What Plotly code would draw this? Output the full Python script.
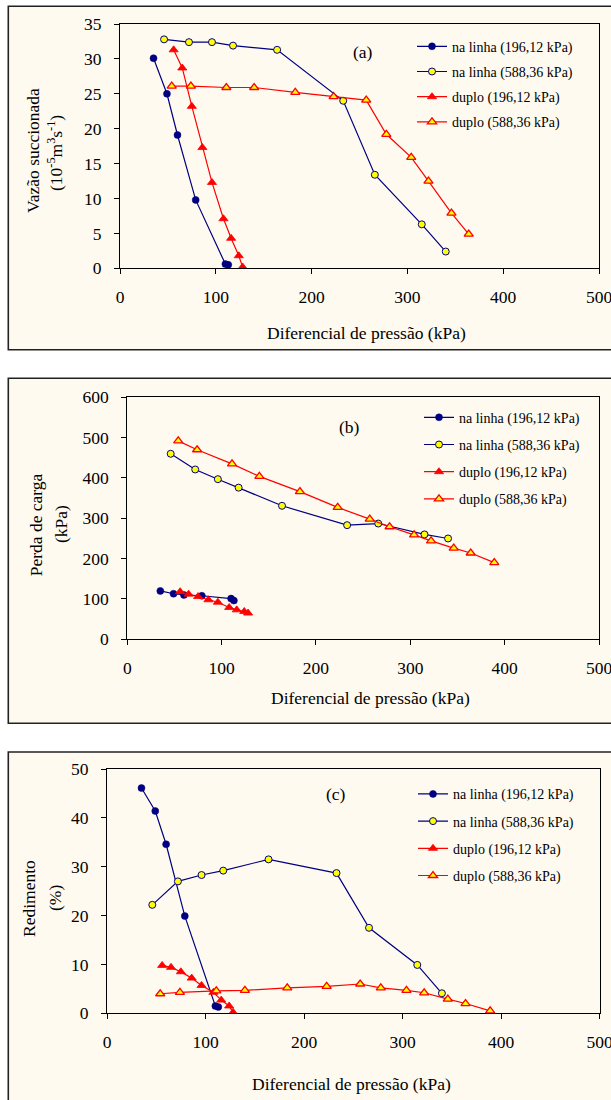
import plotly.graph_objects as go

# ---------------- data ----------------
series_names = ["na linha (196,12 kPa)", "na linha (588,36 kPa)",
                "duplo (196,12 kPa)", "duplo (588,36 kPa)"]

# pressure differential (kPa) for each series
x_linha_196 = [35, 49, 60, 79, 110, 113]
x_linha_588 = [46, 72, 96, 118, 164, 233, 266, 315, 340]
x_duplo_196 = [56, 65, 75, 86, 96, 108, 116, 124, 128]
x_duplo_588 = [54, 74, 111, 140, 183, 223, 257, 278, 304, 322, 346, 364, 389]

# (a) Vazão succionada (10^-5 m3/s)
a_linha_196 = [30.1, 25.0, 19.1, 9.8, 0.6, 0.5]
a_linha_588 = [32.8, 32.4, 32.4, 31.9, 31.3, 24.0, 13.4, 6.3, 2.4]
a_duplo_196 = [31.3, 28.7, 23.2, 17.3, 12.3, 7.1, 4.3, 1.8, 0.2]
a_duplo_588 = [26.1, 26.1, 25.9, 25.9, 25.2, 24.6, 24.1, 19.2, 15.9, 12.5, 7.9, 4.9]

# (b) Perda de carga (kPa)
b_linha_196 = [120, 113, 110, 108, 101, 96]
b_linha_588 = [460, 421, 397, 376, 331, 283, 287, 260, 250]
b_duplo_196 = [118, 112, 106, 98, 92, 79, 73, 69, 65]
b_duplo_588 = [492, 470, 435, 404, 366, 327, 298, 279, 259, 244, 226, 214, 190]

# (c) Rendimento (%)
c_linha_196 = [46.1, 41.4, 34.6, 19.9, 1.5, 1.3]
c_linha_588 = [22.2, 27.0, 28.3, 29.2, 31.5, 28.7, 17.5, 9.9, 4.1]
c_duplo_196 = [9.8, 9.4, 8.5, 7.2, 5.7, 4.3, 2.7, 1.5, 0.2]
c_duplo_588 = [4.0, 4.3, 4.6, 4.7, 5.2, 5.5, 6.0, 5.2, 4.7, 4.2, 2.9, 2.0, 0.5]

x_ticks = [0, 100, 200, 300, 400, 500]
x_title = "Diferencial de pressão (kPa)"

# ---------------- layout helpers ----------------
W, H = 611, 1100
FONT = "Liberation Serif"
NAVY = "#000080"
RED = "#FF0000"
YEL = "#FFFF00"
BG = "#FEFAF0"


def px(x):
    return x / W


def py(y):
    return 1 - y / H


fig = go.Figure()

panels = [
    dict(ax="", ys=[a_linha_196, a_linha_588, a_duplo_196, a_duplo_588],
         xd=[120, 599], yd=[268.3, 24], yr=[0, 35], dy=5, leg="legend"),
    dict(ax="2", ys=[b_linha_196, b_linha_588, b_duplo_196, b_duplo_588],
         xd=[127.3, 599], yd=[639.3, 397.3], yr=[0, 600], dy=100, leg="legend2"),
    dict(ax="3", ys=[c_linha_196, c_linha_588, c_duplo_196, c_duplo_588],
         xd=[107, 599.5], yd=[1013.3, 769], yr=[0, 50], dy=10, leg="legend3"),
]

xs = [x_linha_196, x_linha_588, x_duplo_196, x_duplo_588]
styles = [
    dict(mode="lines+markers", line=dict(color=NAVY, width=1.2),
         marker=dict(symbol="circle", size=7, color=NAVY, line=dict(color=NAVY, width=0.5))),
    dict(mode="lines+markers", line=dict(color=NAVY, width=1.2),
         marker=dict(symbol="circle", size=7, color=YEL, line=dict(color=NAVY, width=1))),
    dict(mode="lines+markers", line=dict(color=RED, width=1.2),
         marker=dict(symbol="triangle-up", size=8, color=RED, line=dict(color=RED, width=0.8))),
    dict(mode="lines+markers", line=dict(color=RED, width=1.2),
         marker=dict(symbol="triangle-up", size=8, color=YEL, line=dict(color=RED, width=1.3))),
]

for p in panels:
    for i in range(4):
        xv = xs[i]
        yv = p["ys"][i]
        n = min(len(xv), len(yv))
        fig.add_trace(go.Scatter(
            x=xv[:n], y=yv[:n], name=series_names[i],
            xaxis="x" + p["ax"], yaxis="y" + p["ax"],
            legend=p["leg"], legendgroup=p["leg"] + str(i),
            **styles[i]))

axis_common = dict(showgrid=False, zeroline=False, showline=True, linecolor="black",
                   linewidth=1, mirror=True, ticks="outside", ticklen=5, tickwidth=1,
                   tickcolor="black", ticklabeloverflow="allow",
                   tickfont=dict(family=FONT, size=17.5, color="black"))

layout = dict(width=W, height=H,
              margin=dict(l=0, r=0, t=0, b=0, pad=0, autoexpand=False),
              paper_bgcolor="white", plot_bgcolor="rgba(0,0,0,0)", showlegend=True,
              font=dict(family=FONT, color="black"))

frames = [(8.3, 6.3, 349.7), (8.3, 378.3, 723.3), (8.3, 752, 1115)]
shapes = []
for (x0, y0, y1) in frames:
    shapes.append(dict(type="rect", xref="paper", yref="paper", layer="below",
                       x0=px(x0), x1=1.1, y0=py(y1), y1=py(y0),
                       fillcolor=BG, line=dict(color="#222222", width=1.6)))
layout["shapes"] = shapes

ann = []
overlay_idx = 4
for k, p in enumerate(panels):
    ax = p["ax"]
    xkey = "xaxis" + ax
    ykey = "yaxis" + ax
    xdom = [px(p["xd"][0]), px(p["xd"][1])]
    ydom = [py(p["yd"][0]), py(p["yd"][1])]
    layout[xkey] = dict(axis_common, domain=xdom, range=[0, 500], tickvals=x_ticks,
                        anchor="y" + ax, ticklabelstandoff=8)
    layout[ykey] = dict(axis_common, domain=ydom, range=p["yr"], dtick=p["dy"],
                        tick0=0, anchor="x" + ax, ticklabelstandoff=9)
    # inside half of the crossing tick marks
    xo = "xaxis" + str(overlay_idx)
    yo = "yaxis" + str(overlay_idx)
    layout[xo] = dict(overlaying="x" + ax, anchor="y" + ax, domain=xdom, range=[0, 500],
                      tickvals=x_ticks, ticks="inside", ticklen=5, tickcolor="black",
                      showticklabels=False, showline=False, showgrid=False, zeroline=False,
                      side="bottom")
    layout[yo] = dict(overlaying="y" + ax, anchor="x" + ax, domain=ydom, range=p["yr"],
                      dtick=p["dy"], tick0=0, ticks="inside", ticklen=5, tickcolor="black",
                      showticklabels=False, showline=False, showgrid=False, zeroline=False,
                      side="left")
    overlay_idx += 1

# legends
leg_pos = [(412, 30.7, 4), (419, 401.7, 6), (413, 778.3, 6)]
for k, (lx, ly, gap) in enumerate(leg_pos):
    key = "legend" if k == 0 else "legend" + str(k + 1)
    layout[key] = dict(x=px(lx), y=py(ly), xanchor="left", yanchor="top",
                       bgcolor="rgba(0,0,0,0)", borderwidth=0, itemwidth=30,
                       tracegroupgap=gap,
                       font=dict(family=FONT, size=14, color="black"))

# panel labels
labels = [("(a)", "x", "y", 253.5, 31.0), ("(b)", "x2", "y2", 236, 527),
          ("(c)", "x3", "y3", 232, 44.8)]
for t, xr, yr, xv, yv in labels:
    ann.append(dict(text=t, xref=xr, yref=yr, x=xv, y=yv, showarrow=False,
                    xanchor="center", yanchor="middle",
                    font=dict(family=FONT, size=17.5, color="black")))

# x axis titles
for (cx, cy) in [(366.5, 333.3), (370.5, 698.3), (351.7, 1084.3)]:
    ann.append(dict(text=x_title, xref="paper", yref="paper", x=px(cx), y=py(cy),
                    xanchor="center", yanchor="middle", showarrow=False,
                    font=dict(family=FONT, size=17.5, color="black")))

# y axis titles (two lines each)
ytitles = [
    ("Vazão succionada", 33, 151), ("(10<sup>-5</sup>m<sup>3</sup>s<sup>-1</sup>)", 55, 153),
    ("Perda de carga", 36, 525.3), ("(kPa)", 61, 524),
    ("Redimento", 29, 899), ("(%)", 54.5, 898.5),
]
for t, cx, cy in ytitles:
    ann.append(dict(text=t, xref="paper", yref="paper", x=px(cx), y=py(cy),
                    xanchor="center", yanchor="middle",
                    textangle=-90, showarrow=False,
                    font=dict(family=FONT, size=17.5, color="black")))

layout["annotations"] = ann
fig.update_layout(**layout)
fig.write_html("out.html",
               config={"displayModeBar": False},
               post_script="document.body.style.margin='0';document.body.style.padding='0';")
